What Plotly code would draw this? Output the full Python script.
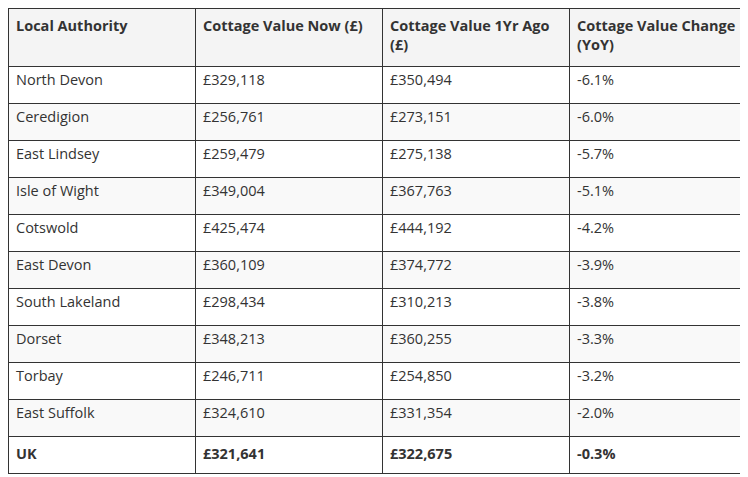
import plotly.graph_objects as go

authorities = ["North Devon", "Ceredigion", "East Lindsey", "Isle of Wight", "Cotswold",
               "East Devon", "South Lakeland", "Dorset", "Torbay", "East Suffolk", "UK"]
value_now = ["£329,118", "£256,761", "£259,479", "£349,004", "£425,474", "£360,109",
             "£298,434", "£348,213", "£246,711", "£324,610", "£321,641"]
value_ago = ["£350,494", "£273,151", "£275,138", "£367,763", "£444,192", "£374,772",
             "£310,213", "£360,255", "£254,850", "£331,354", "£322,675"]
change = ["-6.1%", "-6.0%", "-5.7%", "-5.1%", "-4.2%", "-3.9%", "-3.8%", "-3.3%",
          "-3.2%", "-2.0%", "-0.3%"]
headers = ["Local Authority", "Cottage Value Now (£)", "Cottage Value 1Yr Ago<br>(£)",
           "Cottage Value Change<br>(YoY)"]

def bold_last(col):
    return col[:-1] + ["<b>" + col[-1] + "</b>"]

cols = [bold_last(c) for c in (authorities, value_now, value_ago, change)]
fills = ["white" if i % 2 == 0 else "#f9f9f9" for i in range(len(authorities))]

fig = go.Figure(go.Table(
    columnwidth=[1, 1, 1, 1],
    header=dict(values=["<b>" + h + "</b>" for h in headers],
                fill_color="#f4f4f4", line_color="#333", line_width=1,
                align="left", height=58,
                font=dict(family="Open Sans", size=14.5, color="#333")),
    cells=dict(values=cols, fill_color=[fills] * 4,
               line_color="#333", line_width=1, align="left", height=37,
               font=dict(family="Open Sans", size=14.5, color="#333")),
))
fig.update_layout(width=748, height=477, margin=dict(l=0, r=0, t=0, b=0),
                  paper_bgcolor="white")
fig.write_html("out.html")
